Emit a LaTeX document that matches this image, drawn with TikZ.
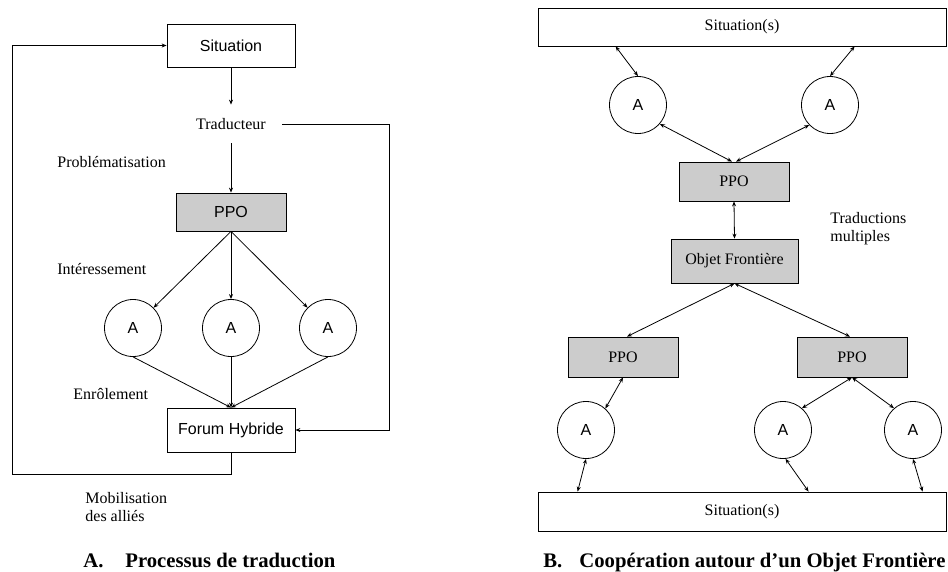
\documentclass[tikz,border=0pt]{standalone}
\usepackage{fontspec}
\setmainfont{Liberation Serif}
\newfontfamily\sansf{Liberation Sans}
\usetikzlibrary{arrows.meta,calc}
\definecolor{ppogray}{RGB}{204,204,204}
\begin{document}
\begin{tikzpicture}[x=1pt,y=-1pt,
  font=\fontsize{16}{18}\selectfont,
  line width=0.8pt,
  box/.style={draw, inner sep=0pt},
  gbox/.style={draw, fill=ppogray, inner sep=0pt},
  sansfont/.style={font=\sansf\fontsize{16}{18}\selectfont},
  circ/.style={draw, circle, minimum size=57pt, inner sep=0pt, sansfont},
  lab/.style={anchor=base west, inner sep=0pt},
  mlab/.style={anchor=north west, inner sep=0pt, align=left},
  ttl/.style={anchor=base west, inner sep=0pt, font=\bfseries\fontsize{20.7}{24}\selectfont},
  arr/.style={-{Stealth[length=5pt,width=4pt]}},
  biarr/.style={{Stealth[length=5pt,width=4pt]}-{Stealth[length=5pt,width=4pt]}}]
\useasboundingbox (0,0) rectangle (948,571);

% ---------- Panel A ----------
\node[box, minimum width=128pt, minimum height=43pt, sansfont] (sitA) at (231,45.5) {Situation};
\node[inner sep=0pt, minimum width=102pt, minimum height=38pt] (trad) at (231,124) {Traducteur};
\node[gbox, minimum width=110pt, minimum height=38pt, sansfont] (ppoA) at (231,212) {PPO};
\node[circ] (a1) at (133,328) {A};
\node[circ] (a2) at (231,328) {A};
\node[circ] (a3) at (328,328) {A};
\node[box, minimum width=128pt, minimum height=44pt, sansfont] (forum) at (231,430) {Forum Hybride};

\node[lab] (lprob) at (57,167) {Problématisation};
\node[lab] (linter) at (57,274) {Intéressement};
\node[lab] (lenrol) at (73,399) {Enrôlement};
\node[mlab] (lmob) at (85,491.5) {Mobilisation\\des alliés};

\coordinate (trR) at (389,124);
\coordinate (loopL) at (12,474);

\draw[arr] (sitA.south) -- (trad.north);
\draw[arr] (trad.south) -- (ppoA.north);
\draw[arr] (trad.east) -- (trR) |- (forum.east);
\draw[arr] (ppoA.south) -- (a1);
\draw[arr] (ppoA.south) -- (a2);
\draw[arr] (ppoA.south) -- (a3);
\draw[arr] (a1.south) -- (forum.north);
\draw[arr] (a2.south) -- (forum.north);
\draw[arr] (a3.south) -- (forum.north);
\draw[arr] (forum.south) |- (loopL) |- (sitA.west);

\node[ttl] (tA) at (83,567) {A.};
\node[ttl] (tAt) at (125,567) {Processus de traduction};

% ---------- Panel B ----------
\node[box, minimum width=408pt, minimum height=38pt] (sitT) at (742,27) {Situation(s)};
\node[circ] (b1) at (638,105) {A};
\node[circ] (b2) at (830,105) {A};
\node[gbox, minimum width=110pt, minimum height=39pt] (ppoT) at (734,181.5) {PPO};
\node[gbox, minimum width=127pt, minimum height=44pt] (of) at (734.5,261) {Objet Frontière};
\node[mlab] (ltm) at (830,212) {Traductions\\multiples};
\node[gbox, minimum width=110pt, minimum height=40pt] (ppoL) at (623,357) {PPO};
\node[gbox, minimum width=110pt, minimum height=40pt] (ppoR) at (852,357) {PPO};
\node[circ] (c1) at (586,430) {A};
\node[circ] (c2) at (783,430) {A};
\node[circ] (c3) at (913,430) {A};
\node[box, minimum width=408pt, minimum height=39pt] (sitB) at (742,511.5) {Situation(s)};

\draw[biarr] ($(sitT.south west)+(78,0)$) -- (b1.north);
\draw[biarr] ($(sitT.south west)+(317,0)$) -- (b2.north);
\draw[biarr] (b1.-41) -- ($(ppoT.north)+(-2,0)$);
\draw[biarr] (b2.-136) -- ($(ppoT.north)+(2,0)$);
\draw[biarr] (ppoT.south) -- (of.north);
\draw[biarr] (of.south) -- ($(ppoL.north)+(4,0)$);
\draw[biarr] (of.south) -- ($(ppoR.north)+(-2,0)$);
\draw[biarr] (ppoL.south) -- (c1.48);
\draw[biarr] (ppoR.south) -- (c2.49);
\draw[biarr] (ppoR.south) -- (c3.131);
\draw[biarr] (c1.south) -- ($(sitB.north west)+(40,0)$);
\draw[biarr] (c2.-85) -- ($(sitB.north west)+(271,0)$);
\draw[biarr] (c3.south) -- ($(sitB.north west)+(385,0)$);

\node[ttl] (tB) at (543,567) {B.};
\node[ttl] (tBt) at (579,567) {Coopération autour d’un Objet Frontière};
\end{tikzpicture}
\end{document}
